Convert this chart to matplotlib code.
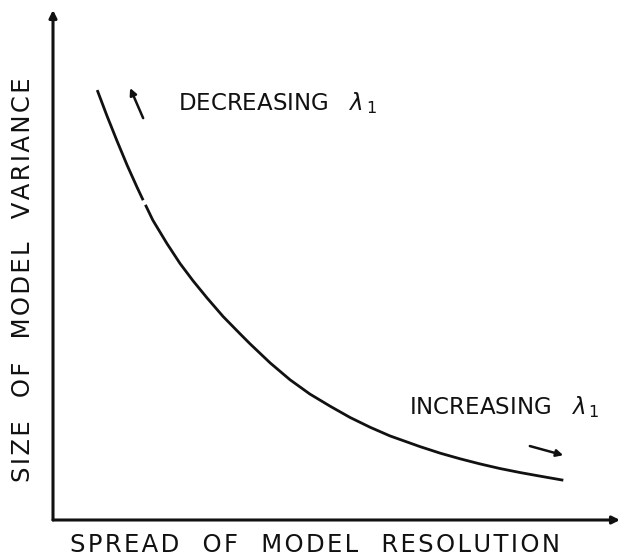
"""Trade-off curve: model variance versus spread of model resolution."""

import matplotlib.pyplot as plt

INK = "#111111"

# curve (arbitrary units, 0-10 on both axes)
spread = [0.78, 0.95, 1.13, 1.31, 1.48, 1.59, 1.63, 1.76, 2.01, 2.24, 2.47, 2.72, 3.00, 3.30,
          3.47, 3.83, 4.18, 4.53, 4.89, 5.24, 5.59, 5.94, 6.47, 6.83, 7.18, 7.53, 7.88, 8.24,
          8.59, 9.00]
variance = [8.43, 7.93, 7.43, 6.95, 6.53, 6.27, 6.18, 5.88, 5.42, 5.03, 4.69, 4.35, 3.99, 3.65,
            3.46, 3.08, 2.75, 2.47, 2.23, 2.01, 1.82, 1.65, 1.44, 1.31, 1.20, 1.10, 1.01, 0.93,
            0.86, 0.78]
gap_after = 6  # the drawn curve has a small break here

# direction arrows (tail, head)
arrow_up = [(1.59, 7.88), (1.36, 8.47)]
arrow_right = [(8.41, 1.45), (9.00, 1.27)]

x_label = "SPREAD OF MODEL RESOLUTION"
y_label = "SIZE OF MODEL VARIANCE"


def spaced(text: str) -> str:
    """Loose lettering: hair space between letters, wide gaps between words."""
    return "   ".join("\u200a".join(word) for word in text.split())


plt.rcParams.update({"font.family": ["DejaVu Sans"], "mathtext.fontset": "dejavusans"})

fig = plt.figure(figsize=(6.23, 5.58), dpi=100)
ax = fig.add_axes([53 / 623, 38 / 558, 567 / 623, 510 / 558])
ax.set_xlim(0, 10)
ax.set_ylim(0, 10)
ax.axis("off")

# axes with arrow heads
arrow_kw = dict(arrowstyle="-|>", color=INK, lw=2.2, mutation_scale=11, shrinkA=0, shrinkB=0)
ax.annotate("", xy=(0, 1), xytext=(0, 0), xycoords="axes fraction", arrowprops=arrow_kw)
ax.annotate("", xy=(1, 0), xytext=(0, 0), xycoords="axes fraction", arrowprops=arrow_kw)

ax.plot(spread[:gap_after], variance[:gap_after], color=INK, lw=2.0, solid_capstyle="butt")
ax.plot(spread[gap_after:], variance[gap_after:], color=INK, lw=2.0, solid_capstyle="butt")

small_kw = dict(arrowstyle="-|>", color=INK, lw=1.8, mutation_scale=10, shrinkA=0, shrinkB=0)
for tail, head in (arrow_up, arrow_right):
    ax.annotate("", xy=head, xytext=tail, arrowprops=small_kw)

ax.text(0.221, 0.818, r"DECREASING   $\lambda_{\,1}$", transform=ax.transAxes,
        fontsize=16.5, va="center", ha="left", color=INK)
ax.text(0.627, 0.222, r"INCREASING   $\lambda_{\,1}$", transform=ax.transAxes,
        fontsize=16.5, va="center", ha="left", color=INK)

fig.text(315 / 623, 1 - 545 / 558, spaced(x_label), fontsize=17.5,
         ha="center", va="center", color=INK)
fig.text(23 / 623, 1 - 280 / 558, spaced(y_label), fontsize=17.5,
         rotation=90, ha="center", va="center", color=INK)

fig.savefig("out.png", dpi=100)
